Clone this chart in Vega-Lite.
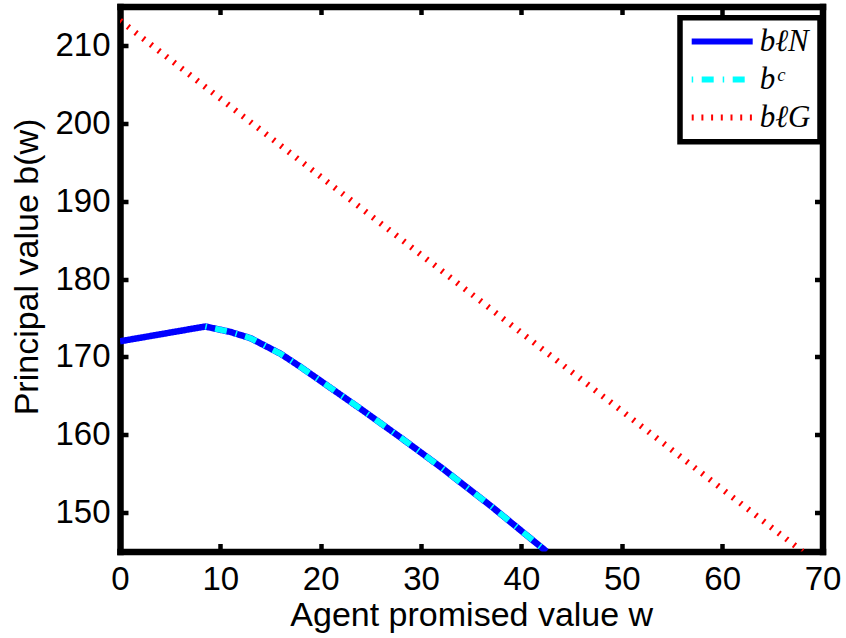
{
  "$schema": "https://vega.github.io/schema/vega-lite/v6.json",
  "width": 702.5,
  "height": 545,
  "autosize": {"type": "none"},
  "padding": {"left": 120, "top": 6.5, "right": 23.5, "bottom": 86.5},
  "background": "white",
  "config": {
    "font": "Liberation Sans",
    "view": {"stroke": null},
    "axis": {
      "domainColor": "black",
      "domainWidth": 6.5,
      "domainCap": "square",
      "tickColor": "black",
      "tickWidth": 4.5,
      "tickSize": -8,
      "grid": false,
      "labelFont": "Liberation Sans",
      "labelFontSize": 33,
      "labelColor": "black",
      "labelFlush": false,
      "labelOverlap": false,
      "titleFont": "Liberation Sans",
      "titleFontSize": 34,
      "titleFontWeight": "normal",
      "titleColor": "black",
      "zindex": 1
    },
    "legend": {
      "orient": "none",
      "legendX": 560,
      "legendY": 11.3,
      "padding": 8.7,
      "strokeColor": "black",
      "strokeWidth": 5.5,
      "fillColor": "white",
      "symbolType": "stroke",
      "symbolSize": 3721,
      "symbolStrokeWidth": 6,
      "clipHeight": 30,
      "rowPadding": 7,
      "labelOffset": 4,
      "labelFont": "Liberation Serif",
      "labelFontStyle": "italic",
      "labelFontSize": 31,
      "labelColor": "black",
      "labelLimit": 0
    }
  },
  "data": {
    "values": [
      {"s": "bN", "w": 0, "b": 172.0},
      {"s": "bN", "w": 8.5, "b": 173.9},
      {"s": "bN", "w": 11, "b": 173.2},
      {"s": "bN", "w": 13, "b": 172.4},
      {"s": "bN", "w": 16, "b": 170.4},
      {"s": "bN", "w": 18, "b": 168.7},
      {"s": "bN", "w": 20, "b": 166.9},
      {"s": "bN", "w": 24, "b": 163.3},
      {"s": "bN", "w": 28, "b": 159.6},
      {"s": "bN", "w": 32, "b": 155.8},
      {"s": "bN", "w": 37, "b": 150.8},
      {"s": "bN", "w": 42.5, "b": 145.0},
      {"s": "bc", "w": 8.5, "b": 173.9},
      {"s": "bc", "w": 11, "b": 173.2},
      {"s": "bc", "w": 13, "b": 172.4},
      {"s": "bc", "w": 16, "b": 170.4},
      {"s": "bc", "w": 18, "b": 168.7},
      {"s": "bc", "w": 20, "b": 166.9},
      {"s": "bc", "w": 24, "b": 163.3},
      {"s": "bc", "w": 28, "b": 159.6},
      {"s": "bc", "w": 32, "b": 155.8},
      {"s": "bc", "w": 37, "b": 150.8},
      {"s": "bc", "w": 42.5, "b": 145.0},
      {"s": "bG", "w": 0, "b": 213.2},
      {"s": "bG", "w": 68, "b": 145.0}
    ]
  },
  "layer": [
    {
      "transform": [{"filter": "datum.s == 'bN'"}],
      "mark": {"type": "line", "strokeWidth": 6.5, "clip": true},
      "encoding": {
        "x": {"field": "w", "type": "quantitative", "scale": {"domain": [0, 70], "nice": false},
              "axis": {"orient": "bottom", "values": [0, 10, 20, 30, 40, 50, 60, 70], "title": "Agent promised value w", "labelPadding": 20, "titleY": 74, "titleBaseline": "alphabetic"}},
        "y": {"field": "b", "type": "quantitative", "scale": {"domain": [145, 215], "nice": false, "zero": false},
              "axis": {"orient": "left", "values": [150, 160, 170, 180, 190, 200, 210], "title": "Principal value b(w)", "labelPadding": 18, "titleX": -83, "titleY": 260, "titleBaseline": "alphabetic"}},
        "color": {"field": "s", "type": "nominal", "scale": {"domain": ["bN", "bc", "bG"], "range": ["#0000ff", "#00ffff", "#ff0000"]},
                  "legend": {"title": null, "labelExpr": "datum.label == 'bN' ? 'b\u2113N' : (datum.label == 'bc' ? 'b\u1d9c' : 'b\u2113G')"}},
        "strokeDash": {"field": "s", "type": "nominal", "scale": {"domain": ["bN", "bc", "bG"], "range": [[1, 0], [1.5, 8.5, 12, 9], [2, 7.7]]},
                  "legend": {"title": null, "labelExpr": "datum.label == 'bN' ? 'b\u2113N' : (datum.label == 'bc' ? 'b\u1d9c' : 'b\u2113G')"}}
      }
    },
    {
      "transform": [{"filter": "datum.s == 'bc'"}],
      "mark": {"type": "line", "strokeWidth": 6, "clip": true},
      "encoding": {
        "x": {"field": "w", "type": "quantitative", "axis": null},
        "y": {"field": "b", "type": "quantitative", "axis": null},
        "color": {"field": "s", "type": "nominal"},
        "strokeDash": {"field": "s", "type": "nominal"}
      }
    },
    {
      "transform": [{"filter": "datum.s == 'bG'"}],
      "mark": {"type": "line", "strokeWidth": 6, "clip": true},
      "encoding": {
        "x": {"field": "w", "type": "quantitative",
              "axis": {"orient": "top", "values": [0, 10, 20, 30, 40, 50, 60, 70], "labels": false, "title": null}},
        "y": {"field": "b", "type": "quantitative",
              "axis": {"orient": "right", "values": [150, 160, 170, 180, 190, 200, 210], "labels": false, "title": null}},
        "color": {"field": "s", "type": "nominal"},
        "strokeDash": {"field": "s", "type": "nominal"}
      }
    }
  ],
  "resolve": {"axis": {"x": "independent", "y": "independent"}}
}
